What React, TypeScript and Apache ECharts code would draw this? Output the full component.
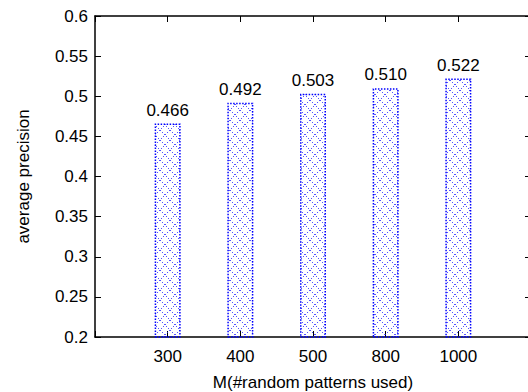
import React, { useEffect, useRef } from "react";
import * as echarts from "echarts";

const categories = ["", "300", "400", "500", "800", "1000", ""];
const values: (number | string)[] = ["-", 0.466, 0.492, 0.503, 0.51, 0.522, "-"];
const valueLabels = ["", "0.466", "0.492", "0.503", "0.510", "0.522", ""];
const yTicks = { min: 0.2, max: 0.6, interval: 0.05 };

const FONT = "Liberation Sans, Arial, Helvetica, sans-serif";

function makePattern(): HTMLCanvasElement {
  const c = document.createElement("canvas");
  c.width = 10;
  c.height = 10;
  const ctx = c.getContext("2d")!;
  ctx.fillStyle = "rgba(30,30,255,0.75)";
  for (let i = 0; i < 10; i += 2) {
    ctx.fillRect(i, i, 1, 1);
    ctx.fillRect(9 - i, i, 1, 1);
  }
  return c;
}

export default function App() {
  const ref = useRef<HTMLDivElement>(null);
  useEffect(() => {
    document.body.style.margin = "0";
    const chart = echarts.init(ref.current!, null, { renderer: "svg" });
    const pattern = makePattern();
    const fmt = (v: number) => String(parseFloat(v.toFixed(2)));
    chart.setOption({
      animation: false,
      backgroundColor: "#ffffff",
      textStyle: { fontFamily: FONT },
      grid: { left: 95, top: 16, width: 436, bottom: 55, outerBoundsMode: "none", containLabel: false },
      xAxis: [
        {
          type: "category",
          data: categories,
          boundaryGap: false,
          name: "M(#random patterns used)",
          nameLocation: "middle",
          nameGap: 37,
          nameTextStyle: { fontSize: 17, color: "#000", fontFamily: FONT },
          axisLine: { lineStyle: { color: "#000", width: 1.5 } },
          axisTick: { inside: true, length: 6, lineStyle: { color: "#000" } },
          axisLabel: { fontSize: 17, color: "#000", margin: 11, fontFamily: FONT, interval: 0 },
          splitLine: { show: false },
        },
        {
          type: "category",
          data: categories,
          boundaryGap: false,
          position: "top",
          axisLine: { lineStyle: { color: "#000", width: 1.5 } },
          axisTick: { inside: true, length: 6, lineStyle: { color: "#000" } },
          axisLabel: { show: false },
          splitLine: { show: false },
        },
      ],
      yAxis: [
        {
          type: "value",
          min: yTicks.min,
          max: yTicks.max,
          interval: yTicks.interval,
          name: "average precision",
          nameLocation: "middle",
          nameGap: 63,
          nameTextStyle: { fontSize: 17, color: "#000", fontFamily: FONT },
          axisLine: { show: true, lineStyle: { color: "#000", width: 1.5 } },
          axisTick: { show: true, inside: true, length: 6, lineStyle: { color: "#000" } },
          axisLabel: { fontSize: 17, color: "#000", margin: 7, formatter: fmt, fontFamily: FONT },
          splitLine: { show: false },
        },
        {
          type: "value",
          min: yTicks.min,
          max: yTicks.max,
          interval: yTicks.interval,
          position: "right",
          axisLine: { show: true, lineStyle: { color: "#000", width: 1.5 } },
          axisTick: { show: true, inside: true, length: 6, lineStyle: { color: "#000" } },
          axisLabel: { show: false },
          splitLine: { show: false },
        },
      ],
      series: [
        {
          type: "bar",
          data: values,
          barWidth: 26,
          itemStyle: {
            color: { image: pattern, repeat: "repeat" },
            borderColor: "#0000ff",
            borderWidth: 1.5,
            borderType: "dotted",
          },
          label: {
            show: true,
            position: "top",
            distance: 5,
            fontSize: 17,
            color: "#000",
            fontFamily: FONT,
            formatter: (p: any) => valueLabels[p.dataIndex],
          },
        },
      ],
    });
    return () => chart.dispose();
  }, []);
  return <div ref={ref} style={{ width: 528, height: 392 }} />;
}
